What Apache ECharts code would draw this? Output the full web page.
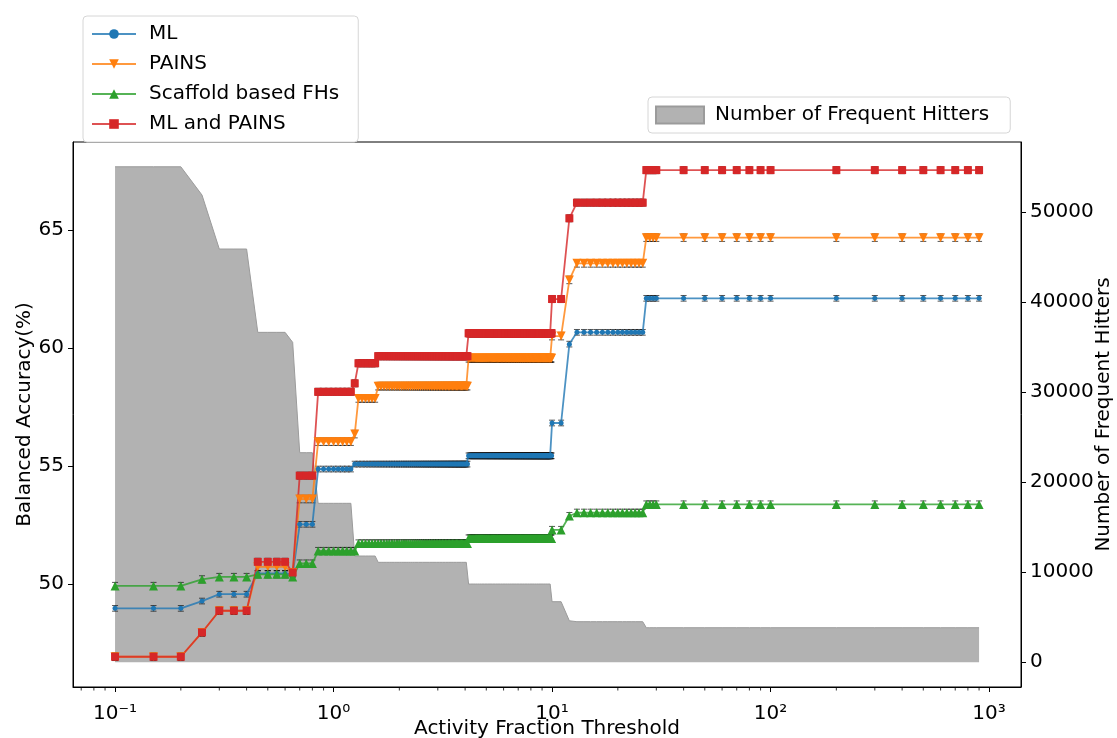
<!DOCTYPE html>
<html>
<head>
<meta charset="utf-8">
<script src="https://cdn.jsdelivr.net/npm/echarts@6/dist/echarts.min.js"></script>
<style>
  html, body { margin: 0; padding: 0; background: #fff; }
  #chart { width: 1117px; height: 738px; }
</style>
</head>
<body>
<div id="chart"></div>
<script>
// activity fraction thresholds (x axis, log)
var thresholds = [
  0.1, 0.15, 0.2, 0.25, 0.3, 0.35, 0.4, 0.45, 0.5, 0.55, 0.6, 0.65, 0.7, 0.75, 0.8, 0.85, 0.9, 0.95,
  1, 1.05, 1.1, 1.15, 1.2, 1.25, 1.3, 1.35, 1.4, 1.45, 1.5, 1.55, 1.6, 1.65, 1.7, 1.75, 1.8, 1.85, 1.9, 1.95,
  2, 2.05, 2.1, 2.15, 2.2, 2.25, 2.3, 2.35, 2.4, 2.45, 2.5, 2.55, 2.6, 2.65, 2.7, 2.75, 2.8, 2.85, 2.9, 2.95,
  3, 3.05, 3.1, 3.15, 3.2, 3.25, 3.3, 3.35, 3.4, 3.45, 3.5, 3.55, 3.6, 3.65, 3.7, 3.75, 3.8, 3.85, 3.9, 3.95,
  4, 4.05, 4.1, 4.15, 4.2, 4.25, 4.3, 4.35, 4.4, 4.45, 4.5, 4.55, 4.6, 4.65, 4.7, 4.75, 4.8, 4.85, 4.9, 4.95,
  5, 5.05, 5.1, 5.15, 5.2, 5.25, 5.3, 5.35, 5.4, 5.45, 5.5, 5.55, 5.6, 5.65, 5.7, 5.75, 5.8, 5.85, 5.9, 5.95,
  6, 6.05, 6.1, 6.15, 6.2, 6.25, 6.3, 6.35, 6.4, 6.45, 6.5, 6.55, 6.6, 6.65, 6.7, 6.75, 6.8, 6.85, 6.9, 6.95,
  7, 7.05, 7.1, 7.15, 7.2, 7.25, 7.3, 7.35, 7.4, 7.45, 7.5, 7.55, 7.6, 7.65, 7.7, 7.75, 7.8, 7.85, 7.9, 7.95,
  8, 8.05, 8.1, 8.15, 8.2, 8.25, 8.3, 8.35, 8.4, 8.45, 8.5, 8.55, 8.6, 8.65, 8.7, 8.75, 8.8, 8.85, 8.9, 8.95,
  9, 9.05, 9.1, 9.15, 9.2, 9.25, 9.3, 9.35, 9.4, 9.45, 9.5, 9.55, 9.6, 9.65, 9.7, 9.75, 9.8, 9.85, 9.9, 9.95,
  10, 11, 12, 13, 14, 15, 16, 17, 18, 19, 20, 21, 22, 23, 24, 25, 26, 27, 28, 29, 30,
  40, 50, 60, 70, 80, 90, 100,
  200, 300, 400, 500, 600, 700, 800, 900
];

// balanced accuracy (%), one row per row of thresholds
var mlAcc = [
  48.97, 48.97, 48.97, 49.28, 49.57, 49.57, 49.57, 50.45, 50.45, 50.45, 50.45, 50.4, 52.53, 52.53, 52.53, 54.87, 54.87, 54.87,
  54.87, 54.87, 54.87, 54.87, 54.87, 55.08, 55.08, 55.08, 55.08, 55.08, 55.08, 55.08, 55.08, 55.08, 55.08, 55.08, 55.08, 55.08, 55.08, 55.08,
  55.08, 55.08, 55.08, 55.08, 55.08, 55.08, 55.08, 55.08, 55.08, 55.08, 55.08, 55.08, 55.08, 55.08, 55.08, 55.08, 55.08, 55.08, 55.08, 55.08,
  55.08, 55.08, 55.08, 55.08, 55.08, 55.08, 55.08, 55.08, 55.08, 55.08, 55.08, 55.08, 55.08, 55.08, 55.08, 55.08, 55.08, 55.08, 55.08, 55.08,
  55.08, 55.08, 55.08, 55.43, 55.43, 55.43, 55.43, 55.43, 55.43, 55.43, 55.43, 55.43, 55.43, 55.43, 55.43, 55.43, 55.43, 55.43, 55.43, 55.43,
  55.43, 55.43, 55.43, 55.43, 55.43, 55.43, 55.43, 55.43, 55.43, 55.43, 55.43, 55.43, 55.43, 55.43, 55.43, 55.43, 55.43, 55.43, 55.43, 55.43,
  55.43, 55.43, 55.43, 55.43, 55.43, 55.43, 55.43, 55.43, 55.43, 55.43, 55.43, 55.43, 55.43, 55.43, 55.43, 55.43, 55.43, 55.43, 55.43, 55.43,
  55.43, 55.43, 55.43, 55.43, 55.43, 55.43, 55.43, 55.43, 55.43, 55.43, 55.43, 55.43, 55.43, 55.43, 55.43, 55.43, 55.43, 55.43, 55.43, 55.43,
  55.43, 55.43, 55.43, 55.43, 55.43, 55.43, 55.43, 55.43, 55.43, 55.43, 55.43, 55.43, 55.43, 55.43, 55.43, 55.43, 55.43, 55.43, 55.43, 55.43,
  55.43, 55.43, 55.43, 55.43, 55.43, 55.43, 55.43, 55.43, 55.43, 55.43, 55.43, 55.43, 55.43, 55.43, 55.43, 55.43, 55.43, 55.43, 55.43, 55.43,
  56.82, 56.82, 60.16, 60.66, 60.66, 60.66, 60.66, 60.66, 60.66, 60.66, 60.66, 60.66, 60.66, 60.66, 60.66, 60.66, 60.66, 62.1, 62.1, 62.1, 62.1,
  62.1, 62.1, 62.1, 62.1, 62.1, 62.1, 62.1,
  62.1, 62.1, 62.1, 62.1, 62.1, 62.1, 62.1, 62.1
];

var painsAcc = [
  46.92, 46.92, 46.92, 47.95, 48.87, 48.87, 48.87, 50.73, 50.73, 50.73, 50.73, 50.49, 53.6, 53.6, 53.6, 56.03, 56.03, 56.03,
  56.03, 56.03, 56.03, 56.03, 56.03, 56.35, 57.86, 57.86, 57.86, 57.86, 57.86, 57.86, 58.38, 58.38, 58.38, 58.38, 58.38, 58.38, 58.38, 58.38,
  58.38, 58.38, 58.38, 58.38, 58.38, 58.38, 58.38, 58.38, 58.38, 58.38, 58.38, 58.38, 58.38, 58.38, 58.38, 58.38, 58.38, 58.38, 58.38, 58.38,
  58.38, 58.38, 58.38, 58.38, 58.38, 58.38, 58.38, 58.38, 58.38, 58.38, 58.38, 58.38, 58.38, 58.38, 58.38, 58.38, 58.38, 58.38, 58.38, 58.38,
  58.38, 58.38, 58.38, 59.56, 59.56, 59.56, 59.56, 59.56, 59.56, 59.56, 59.56, 59.56, 59.56, 59.56, 59.56, 59.56, 59.56, 59.56, 59.56, 59.56,
  59.56, 59.56, 59.56, 59.56, 59.56, 59.56, 59.56, 59.56, 59.56, 59.56, 59.56, 59.56, 59.56, 59.56, 59.56, 59.56, 59.56, 59.56, 59.56, 59.56,
  59.56, 59.56, 59.56, 59.56, 59.56, 59.56, 59.56, 59.56, 59.56, 59.56, 59.56, 59.56, 59.56, 59.56, 59.56, 59.56, 59.56, 59.56, 59.56, 59.56,
  59.56, 59.56, 59.56, 59.56, 59.56, 59.56, 59.56, 59.56, 59.56, 59.56, 59.56, 59.56, 59.56, 59.56, 59.56, 59.56, 59.56, 59.56, 59.56, 59.56,
  59.56, 59.56, 59.56, 59.56, 59.56, 59.56, 59.56, 59.56, 59.56, 59.56, 59.56, 59.56, 59.56, 59.56, 59.56, 59.56, 59.56, 59.56, 59.56, 59.56,
  59.56, 59.56, 59.56, 59.56, 59.56, 59.56, 59.56, 59.56, 59.56, 59.56, 59.56, 59.56, 59.56, 59.56, 59.56, 59.56, 59.56, 59.56, 59.56, 59.56,
  60.5, 60.5, 62.88, 63.58, 63.58, 63.58, 63.58, 63.58, 63.58, 63.58, 63.58, 63.58, 63.58, 63.58, 63.58, 63.58, 63.58, 64.67, 64.67, 64.67, 64.67,
  64.67, 64.67, 64.67, 64.67, 64.67, 64.67, 64.67,
  64.67, 64.67, 64.67, 64.67, 64.67, 64.67, 64.67, 64.67
];

var scaffoldAcc = [
  49.92, 49.92, 49.92, 50.2, 50.3, 50.3, 50.3, 50.41, 50.41, 50.41, 50.41, 50.3, 50.87, 50.87, 50.87, 51.4, 51.4, 51.4,
  51.4, 51.4, 51.4, 51.4, 51.4, 51.4, 51.72, 51.72, 51.72, 51.72, 51.72, 51.72, 51.72, 51.72, 51.72, 51.72, 51.72, 51.72, 51.72, 51.72,
  51.72, 51.72, 51.72, 51.72, 51.72, 51.72, 51.72, 51.72, 51.72, 51.72, 51.72, 51.72, 51.72, 51.72, 51.72, 51.72, 51.72, 51.72, 51.72, 51.72,
  51.72, 51.72, 51.72, 51.72, 51.72, 51.72, 51.72, 51.72, 51.72, 51.72, 51.72, 51.72, 51.72, 51.72, 51.72, 51.72, 51.72, 51.72, 51.72, 51.72,
  51.72, 51.72, 51.72, 51.93, 51.93, 51.93, 51.93, 51.93, 51.93, 51.93, 51.93, 51.93, 51.93, 51.93, 51.93, 51.93, 51.93, 51.93, 51.93, 51.93,
  51.93, 51.93, 51.93, 51.93, 51.93, 51.93, 51.93, 51.93, 51.93, 51.93, 51.93, 51.93, 51.93, 51.93, 51.93, 51.93, 51.93, 51.93, 51.93, 51.93,
  51.93, 51.93, 51.93, 51.93, 51.93, 51.93, 51.93, 51.93, 51.93, 51.93, 51.93, 51.93, 51.93, 51.93, 51.93, 51.93, 51.93, 51.93, 51.93, 51.93,
  51.93, 51.93, 51.93, 51.93, 51.93, 51.93, 51.93, 51.93, 51.93, 51.93, 51.93, 51.93, 51.93, 51.93, 51.93, 51.93, 51.93, 51.93, 51.93, 51.93,
  51.93, 51.93, 51.93, 51.93, 51.93, 51.93, 51.93, 51.93, 51.93, 51.93, 51.93, 51.93, 51.93, 51.93, 51.93, 51.93, 51.93, 51.93, 51.93, 51.93,
  51.93, 51.93, 51.93, 51.93, 51.93, 51.93, 51.93, 51.93, 51.93, 51.93, 51.93, 51.93, 51.93, 51.93, 51.93, 51.93, 51.93, 51.93, 51.93, 51.93,
  52.29, 52.29, 52.88, 53.02, 53.02, 53.02, 53.02, 53.02, 53.02, 53.02, 53.02, 53.02, 53.02, 53.02, 53.02, 53.02, 53.02, 53.37, 53.37, 53.37, 53.37,
  53.37, 53.37, 53.37, 53.37, 53.37, 53.37, 53.37,
  53.37, 53.37, 53.37, 53.37, 53.37, 53.37, 53.37, 53.37
];

var mlPainsAcc = [
  46.92, 46.92, 46.92, 47.95, 48.87, 48.87, 48.87, 50.94, 50.94, 50.94, 50.94, 50.49, 54.59, 54.59, 54.59, 58.14, 58.14, 58.14,
  58.14, 58.14, 58.14, 58.14, 58.14, 58.5, 59.35, 59.35, 59.35, 59.35, 59.35, 59.35, 59.65, 59.65, 59.65, 59.65, 59.65, 59.65, 59.65, 59.65,
  59.65, 59.65, 59.65, 59.65, 59.65, 59.65, 59.65, 59.65, 59.65, 59.65, 59.65, 59.65, 59.65, 59.65, 59.65, 59.65, 59.65, 59.65, 59.65, 59.65,
  59.65, 59.65, 59.65, 59.65, 59.65, 59.65, 59.65, 59.65, 59.65, 59.65, 59.65, 59.65, 59.65, 59.65, 59.65, 59.65, 59.65, 59.65, 59.65, 59.65,
  59.65, 59.65, 59.65, 60.62, 60.62, 60.62, 60.62, 60.62, 60.62, 60.62, 60.62, 60.62, 60.62, 60.62, 60.62, 60.62, 60.62, 60.62, 60.62, 60.62,
  60.62, 60.62, 60.62, 60.62, 60.62, 60.62, 60.62, 60.62, 60.62, 60.62, 60.62, 60.62, 60.62, 60.62, 60.62, 60.62, 60.62, 60.62, 60.62, 60.62,
  60.62, 60.62, 60.62, 60.62, 60.62, 60.62, 60.62, 60.62, 60.62, 60.62, 60.62, 60.62, 60.62, 60.62, 60.62, 60.62, 60.62, 60.62, 60.62, 60.62,
  60.62, 60.62, 60.62, 60.62, 60.62, 60.62, 60.62, 60.62, 60.62, 60.62, 60.62, 60.62, 60.62, 60.62, 60.62, 60.62, 60.62, 60.62, 60.62, 60.62,
  60.62, 60.62, 60.62, 60.62, 60.62, 60.62, 60.62, 60.62, 60.62, 60.62, 60.62, 60.62, 60.62, 60.62, 60.62, 60.62, 60.62, 60.62, 60.62, 60.62,
  60.62, 60.62, 60.62, 60.62, 60.62, 60.62, 60.62, 60.62, 60.62, 60.62, 60.62, 60.62, 60.62, 60.62, 60.62, 60.62, 60.62, 60.62, 60.62, 60.62,
  62.07, 62.07, 65.49, 66.15, 66.15, 66.15, 66.15, 66.15, 66.15, 66.15, 66.15, 66.15, 66.15, 66.15, 66.15, 66.15, 66.15, 67.53, 67.53, 67.53, 67.53,
  67.53, 67.53, 67.53, 67.53, 67.53, 67.53, 67.53,
  67.53, 67.53, 67.53, 67.53, 67.53, 67.53, 67.53, 67.53
];

// number of frequent hitters (right axis, grey area)
var fhCount = [
  55000, 55000, 55000, 51860, 45870, 45870, 45870, 36620, 36620, 36620, 36620, 35510, 23260, 23260, 23260, 17640, 17640, 17640,
  17640, 17640, 17640, 17640, 17640, 11790, 11790, 11790, 11790, 11790, 11790, 11790, 11090, 11090, 11090, 11090, 11090, 11090, 11090, 11090,
  11090, 11090, 11090, 11090, 11090, 11090, 11090, 11090, 11090, 11090, 11090, 11090, 11090, 11090, 11090, 11090, 11090, 11090, 11090, 11090,
  11090, 11090, 11090, 11090, 11090, 11090, 11090, 11090, 11090, 11090, 11090, 11090, 11090, 11090, 11090, 11090, 11090, 11090, 11090, 11090,
  11090, 11090, 11090, 8680, 8680, 8680, 8680, 8680, 8680, 8680, 8680, 8680, 8680, 8680, 8680, 8680, 8680, 8680, 8680, 8680,
  8680, 8680, 8680, 8680, 8680, 8680, 8680, 8680, 8680, 8680, 8680, 8680, 8680, 8680, 8680, 8680, 8680, 8680, 8680, 8680,
  8680, 8680, 8680, 8680, 8680, 8680, 8680, 8680, 8680, 8680, 8680, 8680, 8680, 8680, 8680, 8680, 8680, 8680, 8680, 8680,
  8680, 8680, 8680, 8680, 8680, 8680, 8680, 8680, 8680, 8680, 8680, 8680, 8680, 8680, 8680, 8680, 8680, 8680, 8680, 8680,
  8680, 8680, 8680, 8680, 8680, 8680, 8680, 8680, 8680, 8680, 8680, 8680, 8680, 8680, 8680, 8680, 8680, 8680, 8680, 8680,
  8680, 8680, 8680, 8680, 8680, 8680, 8680, 8680, 8680, 8680, 8680, 8680, 8680, 8680, 8680, 8680, 8680, 8680, 8680, 8680,
  6720, 6720, 4600, 4500, 4500, 4500, 4500, 4500, 4500, 4500, 4500, 4500, 4500, 4500, 4500, 4500, 4500, 3830, 3830, 3830, 3830,
  3830, 3830, 3830, 3830, 3830, 3830, 3830,
  3830, 3830, 3830, 3830, 3830, 3830, 3830, 3830
];

// error bar half widths (accuracy %)
var mlErr = 0.12;
var painsErr = 0.16;
var scaffoldErr = 0.15;
var mlPainsErr = 0.15;

// tick positions
var xTickValues = [0.1, 1, 10, 100, 1000];
var minorTicks = [0.07, 0.08, 0.09, 0.2, 0.3, 0.4, 0.5, 0.6, 0.7, 0.8, 0.9,
  2, 3, 4, 5, 6, 7, 8, 9, 20, 30, 40, 50, 60, 70, 80, 90,
  200, 300, 400, 500, 600, 700, 800, 900];
var accTicks = [50, 55, 60, 65];
var countTicks = [0, 10000, 20000, 30000, 40000, 50000];

var supDigits = { '-1': '\u207b\u00b9', '0': '\u2070', '1': '\u00b9', '2': '\u00b2', '3': '\u00b3' };

var FONT = 'DejaVu Sans';
var accMin = 45.64, accMax = 68.72;

function pairs(ys) {
  return thresholds.map(function (x, i) { return [x, ys[i]]; });
}
function errData(ys, e) {
  return thresholds.map(function (x, i) { return [x, ys[i] - e, ys[i] + e]; });
}
function renderErr(params, api) {
  var x = api.value(0);
  var lo = api.coord([x, api.value(1)]);
  var hi = api.coord([x, api.value(2)]);
  var c = 3;
  var st = { stroke: '#111', lineWidth: 1, opacity: 0.7 };
  return {
    type: 'group',
    children: [
      { type: 'line', shape: { x1: lo[0], y1: lo[1], x2: hi[0], y2: hi[1] }, style: st },
      { type: 'line', shape: { x1: lo[0] - c, y1: lo[1], x2: lo[0] + c, y2: lo[1] }, style: st },
      { type: 'line', shape: { x1: hi[0] - c, y1: hi[1], x2: hi[0] + c, y2: hi[1] }, style: st }
    ]
  };
}
function errSeries(name, ys, e) {
  return {
    name: name + ' err', type: 'custom', data: errData(ys, e),
    encode: { x: 0, y: [1, 2] }, renderItem: renderErr, silent: true, z: 3
  };
}
function lineSeries(name, ys, color, symbol, size, rotate) {
  return {
    name: name, type: 'line', data: pairs(ys),
    symbol: symbol, symbolSize: size, symbolRotate: rotate || 0, showAllSymbol: true,
    itemStyle: { color: color }, lineStyle: { color: color, width: 1.8, opacity: 0.8 },
    emphasis: { disabled: true }, z: 3
  };
}
function xLabel(v) {
  var e = Math.log10(v), r = Math.round(e);
  if (Math.abs(e - r) > 1e-6) return '';
  return '10' + supDigits[r];
}
function plainLabel(v) { return String(v); }

var chart = echarts.init(document.getElementById('chart'));

var option = {
  animation: false,
  grid: {
    left: 73, right: 96, top: 142, bottom: 51, outerBoundsMode: 'none',
    show: true, borderColor: '#000', borderWidth: 1, backgroundColor: 'transparent'
  },
  legend: [
    {
      data: ['ML', 'PAINS', 'Scaffold based FHs', 'ML and PAINS'],
      orient: 'vertical', left: 83, top: 16,
      padding: [8, 19, 8, 8], itemWidth: 44, itemHeight: 12, itemGap: 10,
      textStyle: { fontSize: 20, fontFamily: FONT, color: '#000', padding: [0, 0, 0, 8] },
      borderColor: '#d6d6d6', borderWidth: 1, borderRadius: 4, backgroundColor: '#fff'
    },
    {
      data: ['Number of Frequent Hitters'],
      left: 648, top: 97, icon: 'rect',
      padding: [8, 21, 8, 7], itemWidth: 48, itemHeight: 17,
      textStyle: { fontSize: 20, fontFamily: FONT, color: '#000', padding: [0, 0, 0, 6] },
      borderColor: '#d6d6d6', borderWidth: 1, borderRadius: 4, backgroundColor: '#fff'
    }
  ],
  xAxis: {
    type: 'log', logBase: 10, min: 0.0642, max: 1400,
    axisLine: { onZero: false, lineStyle: { color: '#000', width: 1 } },
    axisTick: { length: 5, customValues: xTickValues, lineStyle: { color: '#000' } },
    axisLabel: {
      fontSize: 20, fontFamily: FONT, color: '#000', margin: 17,
      customValues: xTickValues, formatter: xLabel
    },
    splitLine: { show: false },
    name: 'Activity Fraction Threshold', nameLocation: 'middle', nameGap: 32, nameMoveOverlap: false,
    nameTextStyle: { fontSize: 20, fontFamily: FONT, color: '#000' }
  },
  yAxis: [
    {
      type: 'value', min: accMin, max: accMax, position: 'left',
      axisLine: { show: true, onZero: false, lineStyle: { color: '#000', width: 1 } },
      axisTick: { show: true, length: 5, customValues: accTicks, lineStyle: { color: '#000' } },
      axisLabel: { fontSize: 20, fontFamily: FONT, color: '#000', margin: 9, customValues: accTicks, formatter: plainLabel },
      splitLine: { show: false },
      name: 'Balanced Accuracy(%)', nameLocation: 'middle', nameGap: 38, nameMoveOverlap: false,
      nameTextStyle: { fontSize: 20, fontFamily: FONT, color: '#000' }
    },
    {
      type: 'value', min: -2750, max: 57750, position: 'right',
      axisLine: { show: true, onZero: false, lineStyle: { color: '#000', width: 1 } },
      axisTick: { show: true, length: 5, customValues: countTicks, lineStyle: { color: '#000' } },
      axisLabel: { fontSize: 20, fontFamily: FONT, color: '#000', margin: 9, customValues: countTicks, formatter: plainLabel },
      splitLine: { show: false },
      name: 'Number of Frequent Hitters', nameLocation: 'middle', nameGap: 73, nameMoveOverlap: false,
      nameTextStyle: { fontSize: 20, fontFamily: FONT, color: '#000' }
    }
  ],
  series: [
    {
      name: 'Number of Frequent Hitters', type: 'line', yAxisIndex: 1, data: pairs(fhCount),
      symbol: 'none', showSymbol: false,
      lineStyle: { color: '#9b9b9b', width: 1 },
      itemStyle: { color: '#b2b2b2', borderColor: '#9b9b9b', borderWidth: 1 },
      areaStyle: { color: '#b2b2b2', opacity: 1 },
      emphasis: { disabled: true }, silent: true, z: 1
    },
    errSeries('ML', mlAcc, mlErr),
    lineSeries('ML', mlAcc, '#1f77b4', 'circle', 5),
    errSeries('PAINS', painsAcc, painsErr),
    lineSeries('PAINS', painsAcc, '#ff7f0e', 'triangle', 9, 180),
    errSeries('Scaffold based FHs', scaffoldAcc, scaffoldErr),
    lineSeries('Scaffold based FHs', scaffoldAcc, '#2ca02c', 'triangle', 9),
    errSeries('ML and PAINS', mlPainsAcc, mlPainsErr),
    lineSeries('ML and PAINS', mlPainsAcc, '#d62728', 'rect', 8),
    {
      name: 'minor ticks', type: 'custom', silent: true, clip: false, z: 5,
      data: minorTicks.map(function (v) { return [v, accMin]; }),
      encode: { x: 0, y: 1 },
      renderItem: function (params, api) {
        var p = api.coord([api.value(0), api.value(1)]);
        return { type: 'line', shape: { x1: p[0], y1: p[1], x2: p[0], y2: p[1] + 3.5 }, style: { stroke: '#000', lineWidth: 0.8 } };
      }
    }
  ]
};

chart.setOption(option);
</script>
</body>
</html>
